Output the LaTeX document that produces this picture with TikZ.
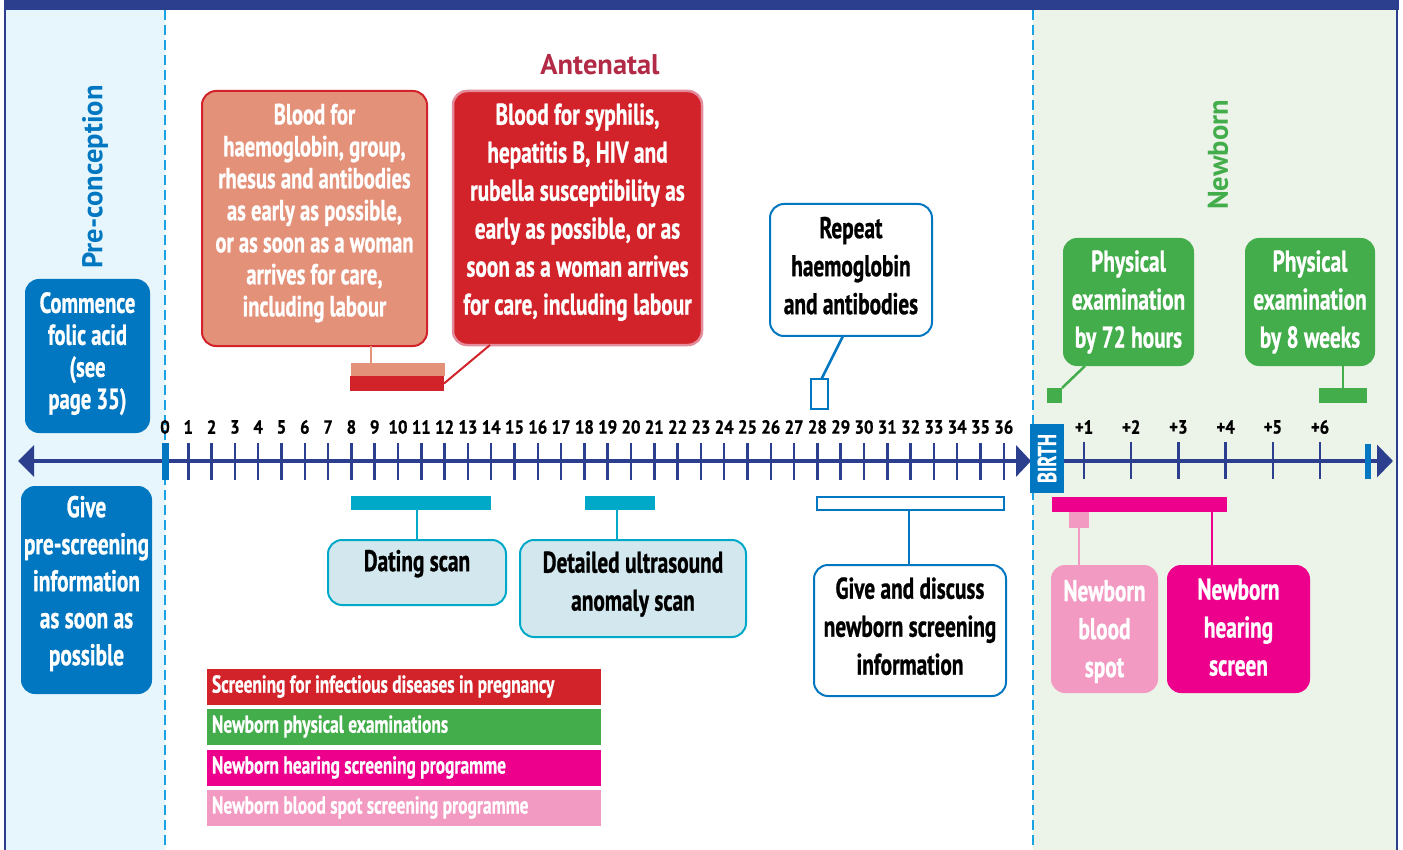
\documentclass[tikz,border=0pt]{standalone}
\usepackage{fontspec}
\usetikzlibrary{arrows.meta}
\newfontfamily\condf[FakeStretch=0.71, BoldFeatures={FakeBold=0.8}]{PT Sans}
\newfontfamily\titlef{PT Sans}
\newfontfamily\numf[FakeStretch=0.88, BoldFeatures={FakeBold=0.8}]{PT Sans}
\definecolor{navy}{HTML}{2B3F8E}
\definecolor{blueB}{HTML}{0077C0}
\definecolor{dashc}{HTML}{1AA3E3}
\definecolor{lightblue}{HTML}{E7F6FD}
\definecolor{lightgreen}{HTML}{ECF3E9}
\definecolor{salmon}{HTML}{E4917A}
\definecolor{redC}{HTML}{D2232A}
\definecolor{redborder}{HTML}{E38C9C}
\definecolor{crimson}{HTML}{B22A45}
\definecolor{greenC}{HTML}{42AD4A}
\definecolor{teal}{HTML}{00A9C8}
\definecolor{paleteal}{HTML}{D3E8EE}
\definecolor{magentaC}{HTML}{EC008C}
\definecolor{pinkC}{HTML}{F39AC2}
\newcommand\bxf{\condf\bfseries\fontsize{30}{38}\selectfont}
\newcommand\bxfs{\condf\bfseries\fontsize{29}{32}\selectfont}
\begin{document}
\begin{tikzpicture}[x=1pt,y=-1pt,
  every node/.style={inner sep=0pt, outer sep=0pt},
  box/.style={rounded corners=14pt, line width=2pt, align=center, font=\bxf},
  bar/.style={draw=none},
  conn/.style={line width=2.5pt},
  tickline/.style={navy, line width=2.5pt},
  axis/.style={navy, line width=4.5pt},
  dashedline/.style={dashc, line width=2.6pt, dash pattern=on 10pt off 5pt},
  wklab/.style={font=\numf\bfseries\fontsize{19}{21}\selectfont, text=black},
  title/.style={font=\titlef\bfseries\fontsize{28.5}{30}\selectfont},
  legend/.style={draw=white, line width=1pt, minimum width=395pt, minimum height=37pt,
     text=white, font=\condf\bfseries\fontsize{24.5}{26}\selectfont}]
\useasboundingbox (0,0) rectangle (1403,850);
% background panels
\fill[white] (0,0) rectangle (1403,850);
\fill[lightblue] (5,10) rectangle (165,850);
\fill[lightgreen] (1033,10) rectangle (1397,850);
\fill[navy] (4,0) rectangle (1399,10);
\draw[navy, line width=1.5pt] (5,0) -- (5,850);
\draw[navy, line width=1.5pt] (1397,0) -- (1397,850);
\draw[dashedline] (165,10) -- (165,850);
\draw[dashedline] (1033,10) -- (1033,850);

% titles
\node[title, text=blueB, rotate=90] (pre) at (95,177) {Pre-conception};
\node[title, text=crimson] (ante) at (600,65) {Antenatal};
\node[title, text=greenC, rotate=90] (newb) at (1218,155) {Newborn};

% axis
\coordinate (ltip) at (18,461);
\coordinate (zero) at (165,461);
\coordinate (rtip) at (1031,461);
\coordinate (nbstart) at (1060,461);
\coordinate (nbtip) at (1393,461);
\draw[axis, -{Triangle[length=16pt,width=31pt]}] (zero) -- (ltip);
\draw[axis, -{Triangle[length=15pt,width=31pt]}] (zero) -- (rtip);
\draw[axis, -{Triangle[length=16pt,width=32pt]}] (nbstart) -- (nbtip);
\foreach \i in {1,...,36} {
  \draw[tickline] ({165+23.3*\i},443) -- ({165+23.3*\i},480);
  \node[wklab] (w\i) at ({165+23.3*\i},427) {\i};
}
\node[wklab] (w0) at (165,427) {0};
\fill[blueB] (162,443) rectangle (169,480);
\foreach \j in {1,...,6} {
  \draw[tickline] ({1036.8+47.2*\j},442) -- ({1036.8+47.2*\j},479);
  \node[wklab] (n\j) at ({1036.8+47.2*\j},427) {+\j};
}
\fill[blueB] (1365,444) rectangle (1371,479);
\node[fill=blueB, text=white, rotate=90, minimum width=69pt, minimum height=34pt,
  font=\condf\bfseries\fontsize{26}{28}\selectfont] (birth) at (1047,458.5) {BIRTH};

% upper boxes
\node[box, fill=blueB, text=white, minimum width=125pt, minimum height=154pt, font=\bxfs, text depth=11pt] (folic) at (87.5,356)
  {Commence\\folic acid\\(see\\page 35)};
\node[box, fill=salmon, draw=redC, text=white, minimum width=225pt, minimum height=255pt, font=\bxfs, text depth=17pt] (box1) at (314.5,218.5)
  {Blood for\\haemoglobin, group,\\rhesus and antibodies\\as early as possible,\\or as soon as a woman\\arrives for care,\\including labour};
\node[box, fill=redC, draw=redborder, line width=2.5pt, text=white, minimum width=249pt, minimum height=254pt, text depth=18pt] (box2) at (577.5,218)
  {Blood for syphilis,\\hepatitis B, HIV and\\rubella susceptibility as\\early as possible, or as\\soon as a woman arrives\\for care, including labour};
\node[box, fill=white, draw=blueB, text=black, minimum width=162pt, minimum height=132pt, text depth=9pt] (repeat) at (851,270)
  {Repeat\\haemoglobin\\and antibodies};
\node[box, fill=greenC, text=white, minimum width=131pt, minimum height=128pt] (phys72) at (1128.5,302)
  {Physical\\examination\\by 72 hours};
\node[box, fill=greenC, text=white, minimum width=130pt, minimum height=128pt] (phys8) at (1310,302)
  {Physical\\examination\\by 8 weeks};

% upper bars
\node[bar, fill=salmon, minimum width=94pt, minimum height=13pt] (b1s) at (398,369.5) {};
\node[bar, fill=redC, minimum width=94pt, minimum height=15pt] (b1r) at (397,383.5) {};
\node[draw=blueB, line width=1.2pt, fill=white, minimum width=17pt, minimum height=30pt] (sr) at (819.5,394) {};
\node[bar, fill=greenC, minimum width=15pt, minimum height=15pt] (sq1) at (1054.5,395.5) {};
\node[bar, fill=greenC, minimum width=48pt, minimum height=15pt] (bar8) at (1343,395.5) {};

% upper connectors
\coordinate (c1) at (371,0);
\draw[conn, salmon] (c1 |- box1.south) -- (c1 |- b1s.north);
\coordinate (c2) at (490,0);
\draw[conn, redC, line width=2pt] (b1r.east) -- (c2 |- box2.south);
\coordinate (c3) at (843,0);
\draw[conn, blueB] (c3 |- repeat.south) -- ([xshift=2pt]sr.north);
\coordinate (c4) at (1085,0);
\draw[conn, greenC] (c4 |- phys72.south) -- (sq1.north east);
\draw[conn, greenC] (bar8.north) -- (bar8.north |- phys8.south);

% lower boxes
\node[box, fill=blueB, text=white, minimum width=131pt, minimum height=208pt, font=\condf\bfseries\fontsize{30}{37}\selectfont, text depth=19pt] (prescr) at (86.5,590)
  {Give\\pre-screening\\information\\as soon as\\possible};
\node[box, fill=paleteal, draw=teal, text=black, minimum width=178pt, minimum height=65pt, text depth=24pt] (dating) at (417,572.5)
  {Dating scan};
\node[box, fill=paleteal, draw=teal, text=black, minimum width=226pt, minimum height=97pt, text depth=15pt] (detailed) at (633,588.5)
  {Detailed ultrasound\\anomaly scan};
\node[box, fill=white, draw=blueB, text=black, minimum width=192pt, minimum height=131pt, text depth=9pt] (discuss) at (910,630.5)
  {Give and discuss\\newborn screening\\information};
\node[box, fill=pinkC, text=white, minimum width=107pt, minimum height=128pt, text depth=1pt] (bspot) at (1104.5,629)
  {Newborn\\blood\\spot};
\node[box, fill=magentaC, text=white, minimum width=143pt, minimum height=128pt, text depth=4pt] (hearing) at (1238.5,629)
  {Newborn\\hearing\\screen};

% lower bars
\node[bar, fill=teal, minimum width=140pt, minimum height=14pt] (bd) at (421,503) {};
\node[bar, fill=teal, minimum width=70pt, minimum height=14pt] (bu) at (620,503) {};
\node[draw=blueB, line width=1.5pt, fill=white, minimum width=187pt, minimum height=13pt] (bg) at (910.5,503.5) {};
\node[bar, fill=magentaC, minimum width=175pt, minimum height=15pt] (bh) at (1139.5,504.5) {};
\node[bar, fill=pinkC, minimum width=20pt, minimum height=16pt] (bs) at (1079,520) {};

% lower connectors
\coordinate (c5) at (417,0);
\draw[conn, teal] (c5 |- bd.south) -- (c5 |- dating.north);
\coordinate (c6) at (617,0);
\draw[conn, teal] (c6 |- bu.south) -- (c6 |- detailed.north);
\coordinate (c7) at (909,0);
\draw[conn, blueB] (c7 |- bg.south) -- (c7 |- discuss.north);
\draw[conn, pinkC] (bs.south) -- (bs.south |- bspot.north);
\coordinate (c8) at (1212,0);
\draw[conn, magentaC] (c8 |- bh.south) -- (c8 |- hearing.north);

% legend
\node[legend, fill=redC] (l1) at (403.5,686.5) {\makebox[383pt][l]{Screening for infectious diseases in pregnancy}};
\node[legend, fill=greenC] (l2) at (403.5,726.5) {\makebox[383pt][l]{Newborn physical examinations}};
\node[legend, fill=magentaC] (l3) at (403.5,767.5) {\makebox[383pt][l]{Newborn hearing screening programme}};
\node[legend, fill=pinkC] (l4) at (403.5,807.5) {\makebox[383pt][l]{Newborn blood spot screening programme}};
\end{tikzpicture}
\end{document}
